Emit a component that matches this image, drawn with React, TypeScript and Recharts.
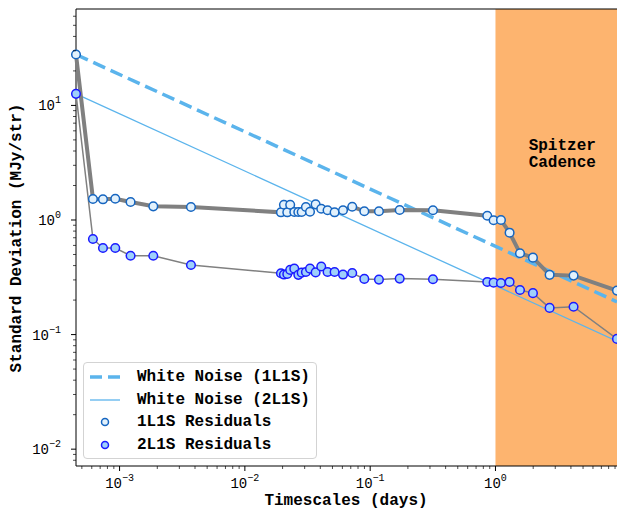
import { ComposedChart, ReferenceArea, ReferenceLine, Scatter, XAxis, YAxis } from "recharts";

// timescales (days), shared by both residual series
const timescales = [
  0.000449, 0.000613, 0.000737, 0.000924, 0.001224, 0.001858, 0.003713,
  0.0194, 0.0205, 0.0218, 0.023, 0.0248, 0.0267, 0.0284, 0.0307, 0.0331,
  0.0367, 0.0407, 0.0457, 0.052, 0.0607, 0.0719, 0.0898, 0.1175, 0.172,
  0.317, 0.86, 0.966, 1.106, 1.296, 1.569, 1.991, 2.704, 4.2, 9.33,
];

const resid1L1S = [
  27.8, 1.524, 1.515, 1.534, 1.435, 1.316, 1.298, 1.167, 1.359, 1.167, 1.359,
  1.174, 1.174, 1.174, 1.298, 1.181, 1.37, 1.254, 1.215, 1.167, 1.215, 1.306,
  1.191, 1.191, 1.222, 1.215, 1.09, 0.994, 1.0, 0.775, 0.513, 0.469, 0.332,
  0.327, 0.242,
];

const resid2L1S = [
  12.62, 0.683, 0.57, 0.57, 0.488, 0.488, 0.405, 0.343, 0.334, 0.338, 0.367,
  0.376, 0.332, 0.347, 0.352, 0.376, 0.349, 0.393, 0.352, 0.352, 0.334, 0.345,
  0.306, 0.302, 0.308, 0.304, 0.288, 0.284, 0.282, 0.288, 0.245, 0.23, 0.171,
  0.175, 0.0917,
];

// white noise lines (straight in log-log), end points
const whiteNoiseX = [0.000449, 9.33];
const whiteNoise1L1S = [27.8, 0.193];
const whiteNoise2L1S = [12.62, 0.0875];

const xMajor = [1e-3, 1e-2, 1e-1, 1];
const yMajor = [1e-2, 1e-1, 1, 10];

const xMin = timescales[0];
const xMax = timescales[timescales.length - 1];
const yMin = 0.00713;
const yMax = 69.4;

const MONO = '"Liberation Mono", "DejaVu Sans Mono", monospace';
const NOISE = "#5bb4ec";
const GRAY = "#808080";

function minorTicks(lo: number, hi: number): number[] {
  const out: number[] = [];
  for (let e = Math.floor(Math.log10(lo)); e <= Math.ceil(Math.log10(hi)); e++) {
    for (let m = 1; m <= 9; m++) {
      const v = m * Math.pow(10, e);
      if (v >= lo * 0.999 && v <= hi * 1.001) out.push(v);
    }
  }
  return out;
}

const zip = (xs: number[], ys: number[]) => xs.map((x, i) => ({ x, y: ys[i] }));

const isMajor = (v: number) => Math.abs(Math.log10(v) - Math.round(Math.log10(v))) < 1e-6;

function expLabel(v: number) {
  const e = Math.round(Math.log10(v));
  return e < 0 ? "\u2212" + Math.abs(e) : String(e);
}

function XTick(props: any) {
  const { x, y, payload } = props;
  const v = payload.value;
  const major = isMajor(v);
  return (
    <g>
      <line x1={x} x2={x} y1={y} y2={y + (major ? 5 : 3)} stroke="#000" strokeWidth={major ? 1 : 0.7} />
      {major && (
        <text x={x} y={y + 22} textAnchor="middle" fontFamily={MONO} fontSize={14} fill="#000">
          10<tspan dy={-7} fontSize={10}>{expLabel(v)}</tspan>
        </text>
      )}
    </g>
  );
}

function YTick(props: any) {
  const { x, y, payload } = props;
  const v = payload.value;
  const major = isMajor(v);
  return (
    <g>
      <line x1={x - (major ? 5 : 3)} x2={x} y1={y} y2={y} stroke="#000" strokeWidth={major ? 1 : 0.7} />
      {major && (
        <text x={x - 15} y={y + 5} textAnchor="end" fontFamily={MONO} fontSize={14} fill="#000">
          10<tspan dy={-7} fontSize={10}>{expLabel(v)}</tspan>
        </text>
      )}
    </g>
  );
}

function SpitzerLabel(props: any) {
  const vb = props.viewBox;
  if (!vb) return null;
  const cx = vb.x + vb.width / 2 + 6;
  return (
    <text textAnchor="middle" fontFamily={MONO} fontWeight="bold" fontSize={16} fill="#000">
      <tspan x={cx} y={vb.y + 141}>Spitzer</tspan>
      <tspan x={cx} y={vb.y + 158}>Cadence</tspan>
    </text>
  );
}

const noShape = () => <g />;

const openDot = (p: any) => (
  <circle cx={p.cx} cy={p.cy} r={4.3} fill="#e2f1fc" stroke="#1565c0" strokeWidth={1.5} />
);
const fullDot = (p: any) => (
  <circle cx={p.cx} cy={p.cy} r={4.3} fill="#9fd0fb" stroke="#1a1aff" strokeWidth={1.5} />
);

const legendRows = [
  { label: "White Noise (1L1S)", kind: "dash" },
  { label: "White Noise (2L1S)", kind: "line" },
  { label: "1L1S Residuals", kind: "open" },
  { label: "2L1S Residuals", kind: "full" },
];

function Swatch({ kind }: { kind: string }) {
  return (
    <svg width={32} height={12} style={{ display: "block" }}>
      {kind === "dash" && <line x1={1} x2={31} y1={6} y2={6} stroke={NOISE} strokeWidth={3.5} strokeDasharray="12 6" />}
      {kind === "line" && <line x1={1} x2={31} y1={6} y2={6} stroke={NOISE} strokeWidth={1.3} />}
      {kind === "open" && <circle cx={16} cy={6} r={3.5} fill="#e2f1fc" stroke="#1565c0" strokeWidth={1.5} />}
      {kind === "full" && <circle cx={16} cy={6} r={3.5} fill="#9fd0fb" stroke="#1a1aff" strokeWidth={1.5} />}
    </svg>
  );
}

export default function App() {
  const xTicks = minorTicks(xMin, xMax);
  const yTicks = minorTicks(yMin, yMax);
  return (
    <div style={{ position: "absolute", left: 0, top: 0, width: 617, height: 514, background: "#fff" }}>
      <ComposedChart width={617} height={514} margin={{ top: 9, right: 0, bottom: 18, left: 16 }}>
        <XAxis
          dataKey="x"
          type="number"
          scale="log"
          domain={[xMin, xMax]}
          ticks={xTicks}
          interval={0}
          tickSize={0}
          tickMargin={0}
          tickLine={false}
          tick={<XTick />}
          height={30}
          axisLine={{ stroke: "#000", strokeWidth: 1 }}
        />
        <YAxis
          dataKey="y"
          type="number"
          scale="log"
          domain={[yMin, yMax]}
          ticks={yTicks}
          interval={0}
          tickSize={0}
          tickMargin={0}
          tickLine={false}
          tick={<YTick />}
          width={60}
          axisLine={{ stroke: "#000", strokeWidth: 1 }}
        />
        <ReferenceArea
          x1={1}
          x2={xMax}
          y1={yMin}
          y2={yMax}
          fill="#fdb46f"
          fillOpacity={1}
          stroke="none"
          label={<SpitzerLabel />}
        />
        <ReferenceLine y={yMax} stroke="#000" strokeWidth={1} />
        <Scatter
          data={zip(whiteNoiseX, whiteNoise1L1S)}
          line={{ stroke: NOISE, strokeWidth: 3.5, strokeDasharray: "13 6" }}
          shape={noShape}
          isAnimationActive={false}
        />
        <Scatter
          data={zip(whiteNoiseX, whiteNoise2L1S)}
          line={{ stroke: NOISE, strokeWidth: 1.3 }}
          shape={noShape}
          isAnimationActive={false}
        />
        <Scatter
          data={zip(timescales, resid1L1S)}
          line={{ stroke: GRAY, strokeWidth: 4 }}
          shape={noShape}
          isAnimationActive={false}
        />
        <Scatter
          data={zip(timescales, resid2L1S)}
          line={{ stroke: GRAY, strokeWidth: 1.5 }}
          shape={noShape}
          isAnimationActive={false}
        />
        <Scatter data={zip(timescales, resid1L1S)} shape={openDot} isAnimationActive={false} />
        <Scatter data={zip(timescales, resid2L1S)} shape={fullDot} isAnimationActive={false} />
      </ComposedChart>

      <div
        style={{
          position: "absolute",
          left: 346,
          top: 492,
          transform: "translateX(-50%)",
          fontFamily: MONO,
          fontWeight: "bold",
          fontSize: 16,
          whiteSpace: "nowrap",
          lineHeight: "18px",
        }}
      >
        Timescales (days)
      </div>
      <div
        style={{
          position: "absolute",
          left: 17,
          top: 238,
          transform: "translate(-50%, -50%) rotate(-90deg)",
          fontFamily: MONO,
          fontWeight: "bold",
          fontSize: 16,
          whiteSpace: "nowrap",
          lineHeight: "18px",
        }}
      >
        Standard Deviation (MJy/str)
      </div>

      <div
        style={{
          position: "absolute",
          left: 83,
          top: 362,
          width: 234,
          height: 97,
          boxSizing: "border-box",
          border: "1px solid #d3d3d3",
          borderRadius: 4,
          background: "rgba(255,255,255,0.8)",
          paddingTop: 3,
        }}
      >
        {legendRows.map((r) => (
          <div key={r.label} style={{ display: "flex", alignItems: "center", height: 22.5 }}>
            <div style={{ marginLeft: 5, width: 48 }}>
              <Swatch kind={r.kind} />
            </div>
            <span style={{ fontFamily: MONO, fontWeight: "bold", fontSize: 16, whiteSpace: "nowrap" }}>{r.label}</span>
          </div>
        ))}
      </div>
    </div>
  );
}
